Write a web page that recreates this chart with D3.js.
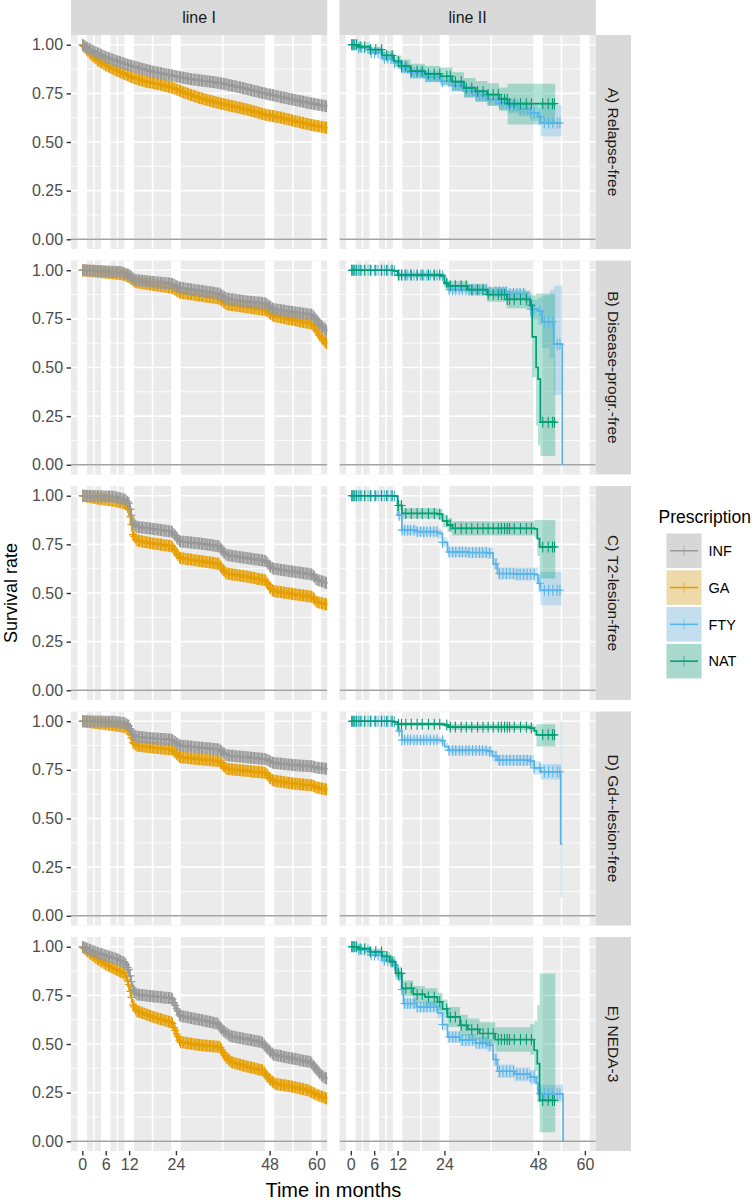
<!DOCTYPE html>
<html><head><meta charset="utf-8">
<script src="https://cdn.jsdelivr.net/npm/d3@7"></script>
<style>body{margin:0;background:#fff}svg{display:block}text{font-family:"Liberation Sans",Arial,sans-serif}</style>
</head><body><svg id="c" width="755" height="1200"></svg>
<script>
// ---------- data ----------
const columnLabels = ["line I", "line II"];
const rowLabels = ["A) Relapse-free", "B) Disease-progr.-free", "C) T2-lesion-free", "D) Gd+-lesion-free", "E) NEDA-3"];
const drugs = ["INF", "GA", "FTY", "NAT"];
const drugColors = ["#999999", "#E69F00", "#56B4E9", "#009E73"];
const xBreaks = [0, 6, 12, 24, 48, 60];
const xMinorBreaks = [3, 9, 18, 36, 54];
const yBreaks = [0, 0.25, 0.5, 0.75, 1];
const yMinorBreaks = [0.125, 0.375, 0.625, 0.875];

// [time, survival, lower, upper]
const A_INF = [[0,1,1,1],[2,0.975,0.971,0.979],[4,0.955,0.951,0.959],[6,0.937,0.932,0.942],[8,0.922,0.917,0.927],[10,0.908,0.903,0.913],[12,0.895,0.89,0.9],[15,0.878,0.872,0.884],[18,0.862,0.856,0.868],[21,0.85,0.844,0.856],[24,0.838,0.831,0.845],[27,0.826,0.819,0.833],[30,0.817,0.81,0.824],[33,0.81,0.802,0.818],[36,0.8,0.792,0.808],[39,0.787,0.779,0.795],[42,0.773,0.764,0.782],[45,0.758,0.749,0.767],[48,0.744,0.735,0.753],[51,0.731,0.721,0.741],[54,0.718,0.708,0.728],[57,0.705,0.694,0.716],[60,0.693,0.682,0.704],[62.8,0.683,0.671,0.695]];
const A_GA = [[0,1,1,1],[2,0.955,0.949,0.961],[4,0.92,0.913,0.927],[6,0.895,0.887,0.903],[8,0.875,0.867,0.883],[10,0.857,0.848,0.866],[13,0.83,0.821,0.839],[16,0.812,0.802,0.822],[20,0.795,0.785,0.805],[23,0.78,0.77,0.79],[26,0.755,0.744,0.766],[30,0.727,0.716,0.738],[34,0.705,0.693,0.717],[38,0.686,0.674,0.698],[42,0.668,0.655,0.681],[47,0.64,0.627,0.653],[51,0.625,0.611,0.639],[55,0.605,0.591,0.619],[59,0.587,0.572,0.602],[62.8,0.572,0.556,0.588]];
const A_FTY = [[0,1,1,1],[2,0.985,0.98,0.99],[5,0.959,0.949,0.969],[8,0.93,0.916,0.944],[11,0.907,0.89,0.924],[13,0.88,0.861,0.899],[15.3,0.856,0.835,0.877],[19,0.835,0.812,0.858],[23,0.812,0.787,0.837],[26,0.79,0.764,0.816],[29,0.761,0.733,0.789],[32,0.74,0.71,0.77],[35,0.718,0.686,0.75],[38,0.7,0.666,0.734],[40.2,0.684,0.648,0.72],[43,0.67,0.632,0.708],[46,0.65,0.608,0.692],[48,0.63,0.585,0.675],[48.6,0.598,0.53,0.69],[54,0.598,0.53,0.69]];
const A_NAT = [[0,1,1,1],[2,0.99,0.982,0.998],[5,0.975,0.96,0.99],[8,0.945,0.922,0.968],[11,0.915,0.885,0.945],[13,0.89,0.856,0.924],[15.3,0.864,0.826,0.902],[19,0.85,0.809,0.891],[23,0.838,0.793,0.883],[26,0.81,0.762,0.858],[29,0.778,0.727,0.829],[32,0.76,0.706,0.814],[35,0.744,0.686,0.802],[38,0.72,0.66,0.78],[40.2,0.697,0.59,0.8],[52.4,0.697,0.59,0.8]];

const B_INF = [[0,1,1,1],[5,0.995,0.993,0.997],[10,0.99,0.987,0.993],[12,0.975,0.971,0.979],[13.5,0.95,0.945,0.955],[18,0.94,0.935,0.945],[23,0.93,0.924,0.936],[25,0.91,0.904,0.916],[30,0.895,0.888,0.902],[35,0.88,0.873,0.887],[37,0.855,0.847,0.863],[42,0.84,0.832,0.848],[47,0.83,0.821,0.839],[49,0.8,0.79,0.81],[54,0.785,0.775,0.795],[59,0.77,0.759,0.781],[61,0.72,0.708,0.732],[62.8,0.685,0.672,0.698]];
const B_GA = [[0,1,1,1],[5,0.99,0.987,0.993],[10,0.98,0.976,0.984],[12,0.965,0.96,0.97],[13.5,0.94,0.934,0.946],[18,0.925,0.918,0.932],[23,0.91,0.903,0.917],[25,0.885,0.877,0.893],[30,0.87,0.861,0.879],[35,0.855,0.846,0.864],[37,0.825,0.815,0.835],[42,0.81,0.8,0.82],[47,0.795,0.784,0.806],[49,0.765,0.753,0.777],[54,0.745,0.732,0.758],[59,0.725,0.711,0.739],[61,0.66,0.645,0.675],[62.8,0.62,0.604,0.636]];
const B_FTY = [[0,1,1,1],[11,0.997,0.993,1],[12,0.975,0.965,0.985],[23,0.972,0.961,0.983],[24,0.93,0.913,0.947],[25,0.9,0.88,0.92],[35,0.89,0.868,0.912],[40,0.88,0.855,0.905],[45,0.86,0.83,0.89],[46,0.8,0.75,0.85],[48,0.79,0.72,0.86],[49,0.735,0.6,0.87],[51,0.735,0.55,0.9],[52,0.62,0.36,0.92],[54,0.62,0.36,0.92],[54.2,0,0,0]];
const B_NAT = [[0,1,1,1],[11,0.997,0.992,1],[12,0.975,0.962,0.988],[23,0.972,0.958,0.986],[24,0.934,0.912,0.956],[25,0.92,0.895,0.945],[30,0.9,0.87,0.93],[35,0.875,0.838,0.912],[40,0.85,0.805,0.895],[46,0.82,0.76,0.88],[46.5,0.657,0.45,0.87],[47.5,0.5,0.2,0.88],[48,0.44,0.1,0.88],[48.6,0.219,0.045,0.88],[52.4,0.219,0.045,0.88]];

const C_INF = [[0,1,1,1],[8,0.995,0.993,0.997],[11,0.98,0.977,0.983],[12,0.96,0.956,0.964],[13,0.86,0.854,0.866],[14,0.84,0.834,0.846],[18,0.83,0.824,0.836],[23,0.815,0.808,0.822],[24,0.79,0.783,0.797],[25,0.765,0.757,0.773],[30,0.755,0.747,0.763],[35,0.74,0.731,0.749],[36,0.715,0.706,0.724],[37,0.695,0.686,0.704],[42,0.68,0.67,0.69],[47,0.665,0.655,0.675],[48,0.64,0.629,0.651],[49,0.625,0.614,0.636],[54,0.61,0.598,0.622],[59,0.595,0.583,0.607],[60,0.57,0.557,0.583],[62.8,0.55,0.537,0.563]];
const C_GA = [[0,1,1,1],[4,0.985,0.981,0.989],[8,0.975,0.97,0.98],[11,0.96,0.954,0.966],[12,0.93,0.923,0.937],[13,0.8,0.791,0.809],[14,0.77,0.761,0.779],[18,0.755,0.745,0.765],[23,0.74,0.73,0.75],[24,0.71,0.7,0.72],[25,0.68,0.669,0.691],[30,0.665,0.654,0.676],[35,0.65,0.638,0.662],[36,0.62,0.608,0.632],[37,0.6,0.588,0.612],[42,0.585,0.572,0.598],[47,0.565,0.552,0.578],[48,0.53,0.516,0.544],[49,0.51,0.496,0.524],[54,0.495,0.48,0.51],[59,0.48,0.465,0.495],[60,0.455,0.439,0.471],[62.8,0.44,0.424,0.456]];
const C_FTY = [[0,1,1,1],[10.8,0.998,0.994,1],[12,0.9,0.882,0.918],[13.1,0.823,0.801,0.845],[17,0.815,0.792,0.838],[22.2,0.806,0.782,0.83],[23.5,0.76,0.735,0.785],[24.8,0.711,0.685,0.737],[30,0.708,0.681,0.735],[35,0.705,0.677,0.733],[36.5,0.65,0.62,0.68],[37.6,0.6,0.569,0.631],[42,0.597,0.564,0.63],[47.1,0.594,0.556,0.632],[48,0.55,0.505,0.595],[48.6,0.514,0.437,0.608],[54,0.514,0.437,0.608]];
const C_NAT = [[0,1,1,1],[10.8,0.998,0.993,1],[12,0.95,0.928,0.972],[13.1,0.909,0.883,0.935],[22.2,0.905,0.878,0.932],[23.5,0.87,0.838,0.902],[24.8,0.849,0.814,0.884],[26,0.832,0.795,0.869],[47.1,0.83,0.785,0.875],[47.8,0.78,0.69,0.875],[48.4,0.737,0.574,0.875],[52.4,0.737,0.574,0.875]];

const D_INF = [[0,1,1,1],[8,0.997,0.995,0.999],[11,0.99,0.987,0.993],[12,0.975,0.971,0.979],[13,0.93,0.925,0.935],[14,0.92,0.915,0.925],[18,0.912,0.906,0.918],[23,0.905,0.899,0.911],[24,0.89,0.883,0.897],[25,0.875,0.868,0.882],[30,0.865,0.858,0.872],[35,0.855,0.847,0.863],[36,0.84,0.832,0.848],[37,0.825,0.816,0.834],[42,0.815,0.806,0.824],[47,0.805,0.795,0.815],[48,0.795,0.785,0.805],[49,0.785,0.774,0.796],[54,0.775,0.764,0.786],[59,0.768,0.756,0.78],[60,0.762,0.75,0.774],[62.8,0.755,0.742,0.768]];
const D_GA = [[0,1,1,1],[4,0.99,0.987,0.993],[8,0.98,0.976,0.984],[11,0.97,0.965,0.975],[12,0.95,0.944,0.956],[13,0.89,0.882,0.898],[14,0.875,0.867,0.883],[18,0.865,0.856,0.874],[23,0.855,0.846,0.864],[24,0.835,0.825,0.845],[25,0.815,0.805,0.825],[30,0.805,0.794,0.816],[35,0.795,0.784,0.806],[36,0.775,0.763,0.787],[37,0.755,0.743,0.767],[42,0.745,0.732,0.758],[47,0.735,0.722,0.748],[48,0.71,0.696,0.724],[49,0.695,0.681,0.709],[54,0.68,0.665,0.695],[59,0.67,0.655,0.685],[60,0.66,0.644,0.676],[62.8,0.648,0.632,0.664]];
const D_FTY = [[0,1,1,1],[11,0.997,0.993,1],[12,0.95,0.935,0.965],[13.1,0.903,0.886,0.92],[23,0.9,0.882,0.918],[24,0.87,0.85,0.89],[25,0.85,0.829,0.871],[35,0.845,0.823,0.867],[36.3,0.82,0.795,0.845],[37.6,0.8,0.773,0.827],[46,0.795,0.765,0.825],[47,0.76,0.725,0.795],[48.6,0.74,0.7,0.78],[53.5,0.74,0.7,0.78],[53.8,0.37,0.095,1],[54.2,0.37,0.095,1]];
const D_NAT = [[0,1,1,1],[11,0.997,0.993,1],[12,0.985,0.975,0.995],[24,0.98,0.968,0.992],[25,0.97,0.955,0.985],[46,0.965,0.947,0.983],[47,0.95,0.925,0.975],[47.6,0.93,0.87,0.985],[52.4,0.93,0.87,0.985]];

const E_INF = [[0,1,1,1],[3,0.975,0.971,0.979],[6,0.955,0.95,0.96],[9,0.935,0.929,0.941],[11,0.915,0.909,0.921],[12,0.88,0.873,0.887],[13,0.78,0.772,0.788],[14,0.755,0.747,0.763],[18,0.745,0.737,0.753],[23,0.735,0.726,0.744],[24,0.69,0.681,0.699],[25,0.645,0.635,0.655],[30,0.625,0.615,0.635],[34.7,0.605,0.594,0.616],[36,0.57,0.559,0.581],[38,0.54,0.528,0.552],[42,0.525,0.513,0.537],[46,0.51,0.497,0.523],[47.5,0.475,0.462,0.488],[49,0.445,0.431,0.459],[54,0.425,0.411,0.439],[58.5,0.407,0.392,0.422],[60,0.37,0.355,0.385],[61.5,0.335,0.319,0.351],[62.8,0.32,0.304,0.336]];
const E_GA = [[0,1,1,1],[2,0.965,0.959,0.971],[4,0.935,0.928,0.942],[6,0.91,0.902,0.918],[9,0.88,0.871,0.889],[11,0.86,0.851,0.869],[12,0.8,0.79,0.81],[13,0.7,0.689,0.711],[14,0.67,0.659,0.681],[18,0.64,0.628,0.652],[23,0.61,0.598,0.622],[24,0.56,0.547,0.573],[25.1,0.51,0.497,0.523],[30,0.495,0.481,0.509],[35.3,0.485,0.471,0.499],[36.5,0.44,0.425,0.455],[38.2,0.407,0.392,0.422],[42,0.385,0.369,0.401],[46.3,0.364,0.348,0.38],[47.5,0.33,0.314,0.346],[49.3,0.296,0.279,0.313],[54,0.28,0.263,0.297],[58,0.261,0.244,0.278],[60,0.24,0.222,0.258],[62,0.225,0.207,0.243],[62.8,0.218,0.2,0.236]];
const E_FTY = [[0,1,1,1],[2,0.985,0.979,0.991],[5,0.957,0.946,0.968],[8,0.93,0.915,0.945],[11,0.906,0.888,0.924],[12,0.85,0.829,0.871],[13,0.78,0.757,0.803],[13.5,0.708,0.683,0.733],[17,0.69,0.664,0.716],[22.2,0.66,0.633,0.687],[23.5,0.6,0.571,0.629],[24.8,0.536,0.506,0.566],[28,0.52,0.489,0.551],[32,0.505,0.473,0.537],[35,0.493,0.46,0.526],[36.5,0.42,0.386,0.454],[37.6,0.36,0.325,0.395],[42,0.345,0.309,0.381],[46,0.33,0.292,0.368],[47.5,0.3,0.26,0.34],[48,0.244,0.2,0.29],[54.2,0.244,0.2,0.29],[54.4,0,0,0]];
const E_NAT = [[0,1,1,1],[2,0.99,0.982,0.998],[5,0.974,0.958,0.99],[8,0.95,0.928,0.972],[10,0.923,0.895,0.951],[11.5,0.863,0.828,0.898],[13.1,0.786,0.746,0.826],[16,0.755,0.712,0.798],[19,0.742,0.697,0.787],[22.2,0.717,0.67,0.764],[23.5,0.68,0.631,0.729],[24.8,0.639,0.588,0.69],[28,0.596,0.542,0.65],[30,0.575,0.519,0.631],[33,0.554,0.496,0.612],[37,0.523,0.46,0.586],[46,0.523,0.445,0.601],[47,0.468,0.36,0.62],[47.8,0.399,0.2,0.7],[48.4,0.21,0.046,0.863],[52.4,0.21,0.046,0.863]];

// censoring times (months)
const censorLineI = [0.1,0.4,0.7,1.1,1.4,1.8,2.1,2.5,2.8,3.2,3.5,3.9,4.2,4.6,4.9,5.3,5.6,6.0,6.3,6.7,7.0,7.4,7.7,8.1,8.4,8.8,9.1,9.5,9.8,10.2,10.5,10.9,11.2,11.6,11.9,12.3,12.6,13.0,13.3,13.7,14.0,14.4,14.7,15.1,15.4,15.8,16.1,16.5,16.8,17.2,17.5,17.9,18.2,18.6,18.9,19.3,19.6,20.0,20.3,20.7,21.0,21.4,21.7,22.1,22.4,22.8,23.1,23.5,23.8,24.2,24.5,24.9,25.2,25.6,25.9,26.3,26.6,27.0,27.3,27.7,28.0,28.4,28.7,29.1,29.4,29.8,30.1,30.5,30.8,31.2,31.5,31.9,32.2,32.6,32.9,33.3,33.6,34.0,34.3,34.7,35.0,35.4,35.7,36.1,36.4,36.8,37.1,37.5,37.8,38.2,38.5,38.9,39.2,39.6,39.9,40.3,40.6,41.0,41.3,41.7,42.0,42.4,42.7,43.1,43.4,43.8,44.1,44.5,44.8,45.2,45.5,45.9,46.2,46.6,46.9,47.3,47.6,48.0,48.3,48.7,49.0,49.4,49.7,50.1,50.4,50.8,51.1,51.5,51.8,52.2,52.5,52.9,53.2,53.6,53.9,54.3,54.6,55.0,55.3,55.7,56.0,56.4,56.7,57.1,57.4,57.8,58.1,58.5,58.8,59.2,59.5,59.9,60.2,60.6,60.9,61.3,61.6,62.0,62.3,62.6];
const censorFTY = [0.2,0.5,0.9,1.3,2.0,2.8,3.5,4.4,5.2,6.1,7.0,7.8,8.6,9.5,10.3,11.2,12.4,13.1,13.8,14.6,15.3,16.2,17.0,17.9,18.7,19.5,20.4,21.3,22.1,23.5,25.2,26.1,26.9,27.8,28.6,29.5,30.3,31.2,32.1,33.0,33.8,34.7,35.6,37.2,38.1,39.0,39.9,40.8,41.7,42.6,43.4,44.3,45.2,46.1,47.0,48.5,49.6,50.7,51.8,52.9,53.6];
const censorNAT = [0.3,0.8,1.5,2.4,3.6,5.0,6.4,7.9,9.2,10.6,12.2,13.0,14.1,15.5,17.0,18.3,19.9,21.4,22.8,24.6,25.5,26.8,28.3,29.6,31.0,32.5,33.9,35.2,36.5,37.8,38.6,39.4,40.1,40.7,41.9,43.5,45.0,46.3,49.2,50.6,51.7,52.2];

// ---------- layout ----------
const svg = d3.select("#c");
svg.append("rect").attr("width", 755).attr("height", 1200).attr("fill", "#ffffff");
const colX0 = [71, 339.5], rowY0 = [35, 260.5, 486, 711.5, 937];
const pw = 256.3, ph = 214;
const x = d3.scaleLinear().domain([-2.9, 62.8]).range([0, pw]);
const y = d3.scaleLinear().domain([-0.05, 1.05]).range([ph, 0]);
const color = d3.scaleOrdinal().domain(drugs).range(drugColors);

const panelData = [
  [[["GA", A_GA, censorLineI], ["INF", A_INF, censorLineI]], [["FTY", A_FTY, censorFTY], ["NAT", A_NAT, censorNAT]]],
  [[["GA", B_GA, censorLineI], ["INF", B_INF, censorLineI]], [["FTY", B_FTY, censorFTY], ["NAT", B_NAT, censorNAT]]],
  [[["GA", C_GA, censorLineI], ["INF", C_INF, censorLineI]], [["FTY", C_FTY, censorFTY], ["NAT", C_NAT, censorNAT]]],
  [[["GA", D_GA, censorLineI], ["INF", D_INF, censorLineI]], [["FTY", D_FTY, censorFTY], ["NAT", D_NAT, censorNAT]]],
  [[["GA", E_GA, censorLineI], ["INF", E_INF, censorLineI]], [["FTY", E_FTY, censorFTY], ["NAT", E_NAT, censorNAT]]]
];

const bis = d3.bisector(d => d[0]).right;
function survStep(data, t) { const i = bis(data, t) - 1; return data[Math.max(0, i)][1]; }
function survLin(data, t) { return d3.scaleLinear().domain(data.map(d => d[0])).range(data.map(d => d[1]))(t); }

const defs = svg.append("defs");
defs.append("clipPath").attr("id", "pclip").append("rect").attr("width", pw).attr("height", ph);

const fontFam = '"Liberation Sans",Arial,sans-serif';

rowY0.forEach((py, r) => {
  colX0.forEach((px, c) => {
    const dense = c === 0;
    const crv = dense ? d3.curveLinear : d3.curveStepAfter;
    const area = d3.area().curve(crv).x(d => x(d[0])).y0(d => y(d[2])).y1(d => y(d[3]));
    const line = d3.line().curve(crv).x(d => x(d[0])).y(d => y(d[1]));
    const survAt = dense ? survLin : survStep;

    const g = svg.append("g").attr("transform", `translate(${px},${py})`);
    g.append("rect").attr("width", pw).attr("height", ph).attr("fill", "#EBEBEB");
    const cg = g.append("g").attr("clip-path", "url(#pclip)");
    cg.selectAll(".hmin").data(yMinorBreaks).join("line").attr("x1", 0).attr("x2", pw)
      .attr("y1", d => y(d)).attr("y2", d => y(d)).attr("stroke", "#fff").attr("stroke-width", 0.9);
    cg.selectAll(".vmin").data(xMinorBreaks).join("line").attr("y1", 0).attr("y2", ph)
      .attr("x1", d => x(d)).attr("x2", d => x(d)).attr("stroke", "#fff").attr("stroke-width", 1.6);
    cg.selectAll(".hmaj").data(yBreaks).join("line").attr("x1", 0).attr("x2", pw)
      .attr("y1", d => y(d)).attr("y2", d => y(d)).attr("stroke", "#fff").attr("stroke-width", 1.7);
    cg.selectAll(".vmaj").data(xBreaks).join("line").attr("y1", 0).attr("y2", ph)
      .attr("x1", d => x(d)).attr("x2", d => x(d)).attr("stroke", "#fff").attr("stroke-width", 9.5);
    cg.append("line").attr("x1", 0).attr("x2", pw).attr("y1", y(0)).attr("y2", y(0))
      .attr("stroke", "#A3A3A3").attr("stroke-width", 1.7);
    panelData[r][c].forEach(([name, data]) => {
      cg.append("path").datum(data).attr("d", area).attr("fill", color(name)).attr("fill-opacity", 0.3);
    });
    panelData[r][c].forEach(([name, data, cens]) => {
      const col = color(name);
      cg.append("path").datum(data).attr("d", line).attr("fill", "none").attr("stroke", col).attr("stroke-width", 1.7);
      const tEnd = data[data.length - 1][0];
      const marks = cens.filter(t => t < tEnd - 0.1);
      const half = dense ? 6 : 5.5;
      const mg = cg.append("g").attr("stroke", col).attr("stroke-width", dense ? 1.25 : 1.1);
      mg.selectAll("line.v").data(marks).join("line")
        .attr("x1", t => x(t)).attr("x2", t => x(t))
        .attr("y1", t => y(survAt(data, t)) - half).attr("y2", t => y(survAt(data, t)) + half);
      mg.selectAll("line.h").data(marks).join("line")
        .attr("x1", t => x(t) - 4).attr("x2", t => x(t) + 4)
        .attr("y1", t => y(survAt(data, t))).attr("y2", t => y(survAt(data, t)));
    });
    if (c === 0) {
      const ax = g.append("g").call(d3.axisLeft(y).tickValues(yBreaks).tickFormat(d3.format(".2f")).tickSize(4.4).tickPadding(3.5));
      ax.select(".domain").remove();
      ax.selectAll(".tick line").attr("stroke", "#333").attr("stroke-width", 1.4);
      ax.selectAll(".tick text").attr("fill", "#4D4D4D").style("font-size", "16px").style("font-family", fontFam);
    }
    if (r === rowY0.length - 1) {
      const ax = g.append("g").attr("transform", `translate(0,${ph})`)
        .call(d3.axisBottom(x).tickValues(xBreaks).tickFormat(d3.format("d")).tickSize(4.4).tickPadding(3));
      ax.select(".domain").remove();
      ax.selectAll(".tick line").attr("stroke", "#333").attr("stroke-width", 1.4);
      ax.selectAll(".tick text").attr("fill", "#4D4D4D").style("font-size", "16px").style("font-family", fontFam);
    }
  });
  // right strip
  const sx = colX0[1] + pw;
  svg.append("rect").attr("x", sx).attr("y", py).attr("width", 35.2).attr("height", ph).attr("fill", "#D9D9D9");
  svg.append("text").attr("transform", `translate(${sx + 17.6},${py + ph / 2}) rotate(90)`)
    .attr("text-anchor", "middle").attr("dy", "0.36em").attr("fill", "#1A1A1A")
    .style("font-size", "15.5px").text(rowLabels[r]);
});

// top strips
colX0.forEach((px, c) => {
  svg.append("rect").attr("x", px).attr("y", 0).attr("width", pw).attr("height", 35).attr("fill", "#D9D9D9");
  svg.append("text").attr("x", px + pw / 2).attr("y", 17.5).attr("dy", "0.36em").attr("text-anchor", "middle")
    .attr("fill", "#1A1A1A").style("font-size", "16px").text(columnLabels[c]);
});

// axis titles
svg.append("text").attr("x", (colX0[0] + colX0[1] + pw) / 2).attr("y", 1197).attr("text-anchor", "middle")
  .attr("fill", "#000").style("font-size", "20px").text("Time in months");
svg.append("text").attr("transform", `translate(11,${(rowY0[0] + rowY0[4] + ph) / 2}) rotate(-90)`)
  .attr("text-anchor", "middle").attr("dy", "0.36em").attr("fill", "#000").style("font-size", "18px").text("Survival rate");

// legend
const lg = svg.append("g").attr("transform", "translate(658.5,0)");
lg.append("text").attr("x", 0).attr("y", 522.5).attr("fill", "#000").style("font-size", "17.5px").text("Prescription");
drugs.forEach((d, i) => {
  const ky = 533.5 + i * 36.8;
  const kg = lg.append("g").attr("transform", `translate(8,${ky})`);
  kg.append("rect").attr("width", 35).attr("height", 34.5).attr("fill", "#F2F2F2");
  kg.append("rect").attr("width", 35).attr("height", 34.5).attr("fill", color(d)).attr("fill-opacity", 0.3);
  kg.append("line").attr("x1", 3.5).attr("x2", 31.5).attr("y1", 17.25).attr("y2", 17.25).attr("stroke", color(d)).attr("stroke-width", 1.5);
  kg.append("line").attr("x1", 17.5).attr("x2", 17.5).attr("y1", 12).attr("y2", 22.5).attr("stroke", color(d)).attr("stroke-width", 0.9).attr("stroke-opacity", 0.7);
  lg.append("text").attr("x", 50).attr("y", ky + 17.25).attr("dy", "0.36em").attr("fill", "#000").style("font-size", "14.5px").text(d);
});
</script></body></html>
